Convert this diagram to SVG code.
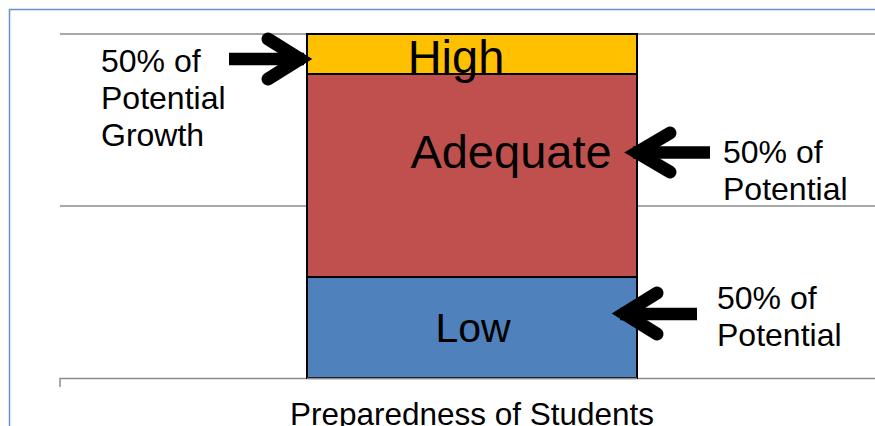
<svg xmlns="http://www.w3.org/2000/svg" width="875" height="426" viewBox="0 0 875 426">
<defs>
<style>
.frame{stroke:#6a91c8;stroke-width:1.5;fill:none}
.grid{stroke:#8c8c8c;stroke-width:1.5;fill:none}
.seg{stroke:#000;stroke-width:2}
.big{font-family:"Liberation Sans",Arial,sans-serif;fill:#000;text-anchor:middle}
.lbl{font-family:"Liberation Sans",Arial,sans-serif;font-size:32px;fill:#000}
.shaft{stroke:#000;stroke-width:12.5;stroke-linecap:butt;fill:none}
.head{stroke:#000;stroke-width:13;stroke-linecap:round;stroke-linejoin:miter;stroke-miterlimit:4;fill:none}
</style>
</defs>
<rect width="875" height="426" fill="#fff"/>
<path class="frame" d="M9.5,426 V9.5 H875"/>
<g id="axes">
<path class="grid" d="M60,34 H875 M60,206 H875"/>
<path class="grid" d="M60,387 V378.5 H875"/>
</g>
<g id="high">
<rect class="seg" x="307" y="34" width="330" height="40" fill="#FFC000"/>
</g>
<g id="adequate">
<rect class="seg" x="307" y="74" width="330" height="203" fill="#C0504D"/>
</g>
<g id="low">
<rect class="seg" x="307" y="277" width="330" height="101" fill="#4F81BD"/>
</g>
<path class="grid" d="M307,378.5 H637"/>
<g id="labels">
<text class="big" x="456" y="73" font-size="47">High</text>
<text class="big" x="511" y="168" font-size="47">Adequate</text>
<text class="big" x="473" y="342" font-size="41">Low</text>
</g>
<g id="connectors">
<path class="shaft" d="M229,59 H304"/>
<path class="head" d="M268,39 L300,59 L268,79"/>
<path class="shaft" d="M710,152.5 H633"/>
<path class="head" d="M670,133 L637,152.5 L670,172"/>
<path class="shaft" d="M697,314 H620"/>
<path class="head" d="M657,293 L624,313.5 L657,334"/>
</g>
<g id="note-left">
<text class="lbl" x="101" y="72">50% of</text>
<text class="lbl" x="101" y="109">Potential</text>
<text class="lbl" x="101" y="146">Growth</text>
</g>
<g id="note-adequate">
<text class="lbl" x="723" y="163">50% of</text>
<text class="lbl" x="723" y="200">Potential</text>
</g>
<g id="note-low">
<text class="lbl" x="717" y="309">50% of</text>
<text class="lbl" x="717" y="346">Potential</text>
</g>
<text class="big" x="472" y="425" font-size="31.5">Preparedness of Students</text>
</svg>
